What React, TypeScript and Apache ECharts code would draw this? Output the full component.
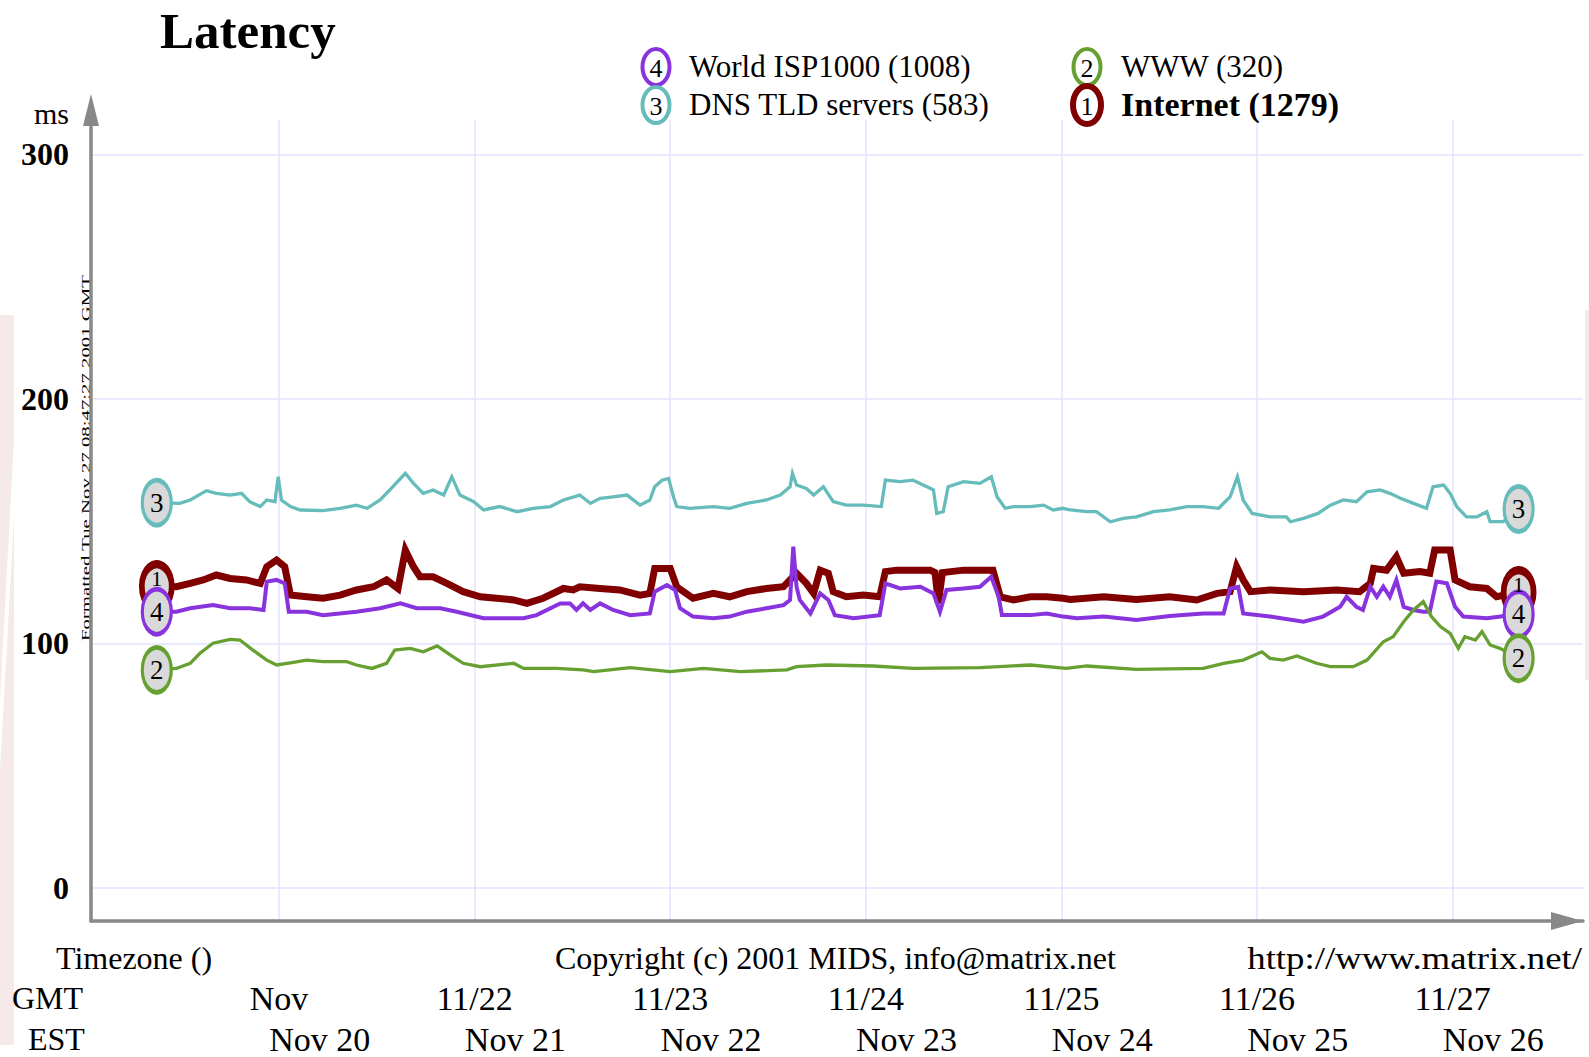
import React, { useEffect, useRef } from "react";
import * as echarts from "echarts";

// hours since Nov 21 00:00 GMT
const gmtTicks = [0, 24, 48, 72, 96, 120, 144];
const gmtLabels = ["Nov", "11/22", "11/23", "11/24", "11/25", "11/26", "11/27"];
const estTicks = [5, 29, 53, 77, 101, 125, 149];
const estLabels = ["Nov 20", "Nov 21", "Nov 22", "Nov 23", "Nov 24", "Nov 25", "Nov 26"];
const yTicks = [0, 100, 200, 300];

const dnsPoints: number[][] = [
  [-15.0, 157.6], [-12.2, 157.3], [-10.9, 158.7], [-8.9, 162.5], [-7.7, 161.4], [-6.0, 160.7], [-4.6, 161.4],
  [-3.6, 158], [-2.3, 156], [-1.5, 158.7], [-0.5, 158], [-0.1, 168.2], [0.3, 158.7], [1.4, 156], [2.6, 154.6],
  [5.4, 154.3], [7.5, 155.3], [9.5, 156.6], [10.8, 155.3], [12.4, 158.7], [13.6, 162.8], [15.5, 169.6],
  [16.5, 165.5], [17.7, 161.4], [18.9, 162.8], [20.2, 160.7], [21.2, 168.2], [22.2, 160.7], [23.9, 158],
  [25.1, 154.6], [27.1, 156], [29.2, 153.9], [31.2, 155.3], [33.3, 156], [34.9, 158.7], [36.9, 160.7],
  [38.2, 157.3], [39.4, 159.4], [41.0, 160], [42.7, 160.7], [44.3, 156.6], [45.5, 158.7], [46.1, 164.1],
  [47.0, 166.8], [47.8, 167.5], [48.4, 160], [48.8, 156], [50.4, 155.3], [53.3, 156], [55.3, 155.3],
  [57.4, 157.3], [59.8, 158.7], [61.5, 160.7], [62.7, 164.1], [63.0, 169.6], [63.5, 164.8], [64.7, 163.4],
  [65.6, 160.7], [66.8, 164.1], [68.0, 158], [69.6, 156.6], [71.7, 156.6], [73.9, 156], [74.4, 166.8],
  [76.2, 166.2], [77.8, 166.8], [79.5, 164.1], [80.3, 162.8], [80.7, 153.2], [81.5, 153.9], [82.1, 164.1],
  [84.0, 166.2], [86.0, 165.5], [87.4, 168.2], [88.1, 160], [89.1, 155.3], [90.1, 156], [92.2, 156],
  [93.8, 156.6], [95.0, 154.6], [96.2, 155.3], [97.1, 154.6], [99.1, 153.9], [100.3, 153.9], [102.0, 149.8],
  [103.6, 151.2], [105.2, 151.8], [107.3, 153.9], [109.3, 154.6], [111.4, 156], [113.4, 156], [115.3, 155.3],
  [116.7, 160], [117.6, 168.2], [118.3, 158.7], [119.4, 153.2], [121.6, 151.8], [123.6, 151.8], [124.1, 149.8],
  [125.7, 151.2], [127.5, 153.2], [129.0, 156.6], [130.6, 158.7], [132.2, 158], [133.5, 162], [135.1, 162.8],
  [136.3, 161.4], [137.6, 159.4], [139.2, 157.3], [140.8, 155.3], [141.6, 164.1], [142.9, 164.8], [143.7, 161.4],
  [144.5, 156], [145.7, 151.8], [147.0, 151.8], [148.2, 153.9], [148.6, 149.8], [150.2, 149.8], [152.1, 155],
];

const internetPoints: number[][] = [
  [-15.0, 123.4], [-12.6, 123.2], [-10.9, 124.6], [-9.3, 126], [-7.7, 128], [-6.0, 126.6], [-4.0, 126],
  [-2.3, 124.6], [-1.5, 131.4], [-0.3, 134.1], [0.7, 131.4], [1.4, 119.8], [3.4, 119.1], [5.4, 118.5],
  [7.5, 119.8], [9.5, 121.9], [11.6, 123.2], [13.2, 126], [14.6, 122.5], [15.5, 138.2], [16.5, 131.4],
  [17.3, 127.3], [18.9, 127.3], [20.6, 124.6], [22.6, 121.2], [24.7, 119.1], [26.7, 118.5], [28.8, 117.8],
  [30.4, 116.4], [32.4, 118.5], [34.9, 122.5], [36.1, 121.9], [36.9, 123.2], [39.4, 122.5], [41.8, 121.9],
  [44.3, 119.8], [45.5, 120.5], [46.1, 130.7], [48.0, 130.7], [48.8, 123.2], [50.8, 118.5], [53.3, 120.5],
  [55.3, 119.1], [57.4, 121.2], [59.8, 122.5], [61.9, 123.2], [62.7, 126], [63.5, 128.7], [64.7, 124.6],
  [65.6, 120.5], [66.4, 130], [67.4, 128.7], [68.0, 121.2], [69.6, 119.1], [71.7, 119.8], [73.7, 119.1],
  [74.4, 129.4], [75.8, 130], [77.8, 130], [79.9, 130], [80.5, 129], [80.9, 116.4], [81.4, 129], [84.0, 130],
  [87.6, 130], [88.5, 119.1], [90.1, 117.8], [92.2, 119.1], [94.2, 119.1], [96.2, 118.5], [97.1, 118],
  [101.2, 119.1], [105.2, 118], [109.3, 119.1], [112.6, 117.8], [115.1, 120.5], [116.7, 121.2], [117.5, 131.4],
  [118.3, 126], [119.2, 121.2], [121.6, 121.9], [125.7, 121.2], [129.8, 121.9], [132.6, 121.2], [133.9, 124.6],
  [134.3, 130.7], [135.9, 130], [137.1, 135.5], [138.0, 128.7], [140.0, 129.4], [141.2, 128.7], [141.8, 138.2],
  [143.7, 138.2], [144.3, 126], [146.1, 123.2], [148.2, 122.5], [149.4, 119.1], [152.1, 121],
];

const ispPoints: number[][] = [
  [-15.0, 113], [-12.6, 113], [-10.9, 114.4], [-8.1, 115.7], [-6.0, 114.4], [-3.6, 114.4], [-1.9, 113.7],
  [-1.5, 125.3], [-0.3, 126], [0.7, 124.6], [1.2, 113], [3.4, 113], [5.4, 111.6], [9.5, 113], [12.4, 114.4],
  [14.9, 116.4], [16.9, 114.4], [19.8, 114.4], [21.8, 113], [25.1, 110.3], [30.0, 110.3], [31.6, 111.6],
  [34.5, 116.4], [35.7, 116.4], [36.5, 113.7], [37.3, 116.4], [38.2, 113.7], [39.4, 116.4], [41.0, 113.7],
  [43.1, 111.6], [45.5, 112.3], [46.1, 121.2], [47.6, 123.9], [48.6, 121.9], [49.2, 114.4], [50.8, 111],
  [53.3, 110.3], [55.3, 111], [57.4, 113], [59.8, 114.4], [61.9, 115.7], [62.7, 117.8], [63.1, 139.6],
  [63.5, 123.2], [63.9, 117.8], [65.2, 112.3], [66.4, 120.5], [67.4, 117.8], [68.2, 111.6], [70.5, 110.3],
  [73.7, 111.6], [74.4, 124.6], [76.2, 122.5], [78.7, 123.2], [80.3, 120.5], [81.1, 113], [81.9, 121.9],
  [84.0, 122.5], [86.0, 123.2], [87.4, 127.3], [88.3, 119.1], [88.7, 111.6], [92.2, 111.6], [94.2, 112.3],
  [96.2, 111], [97.9, 110.3], [101.2, 111], [105.2, 109.6], [109.3, 111.2], [113.4, 112.3], [115.9, 112.3],
  [116.7, 122.5], [117.7, 123.2], [118.3, 112.3], [121.6, 111], [125.7, 108.9], [128.1, 111], [130.2, 115],
  [131.0, 119.1], [132.2, 115], [133.0, 113.7], [133.9, 123.2], [134.7, 119.1], [135.5, 123.2], [136.3, 119.1],
  [137.1, 126], [138.0, 115], [139.2, 113.7], [140.4, 113], [141.2, 113], [142.0, 125.3], [143.3, 124.6],
  [144.3, 115], [145.3, 111], [148.2, 110.3], [152.1, 112],
];

const wwwPoints: number[][] = [
  [-15.0, 89.2], [-12.6, 89.8], [-10.9, 91.9], [-9.7, 96], [-8.1, 100.1], [-6.0, 101.7], [-4.8, 101.4],
  [-3.2, 97.3], [-1.5, 93.2], [-0.3, 91.2], [1.4, 92.1], [3.4, 93.2], [5.4, 92.6], [8.3, 92.6], [9.5, 91.2],
  [11.4, 89.8], [13.2, 91.9], [14.2, 97.3], [16.1, 98], [17.7, 96.6], [19.4, 99], [21.0, 95.3], [22.6, 91.9],
  [24.7, 90.5], [28.8, 91.9], [30.0, 89.8], [34.1, 89.8], [37.3, 89.2], [38.6, 88.5], [43.1, 90.1], [48.0, 88.5],
  [52.1, 89.8], [56.6, 88.5], [62.3, 89.2], [63.5, 90.5], [67.2, 91.2], [72.9, 90.8], [77.8, 89.8], [86.0, 90.1],
  [92.2, 91.2], [96.6, 89.8], [99.1, 90.8], [105.2, 89.4], [113.4, 89.8], [115.9, 91.9], [118.3, 93.2],
  [120.6, 96.6], [121.6, 93.9], [123.2, 93.2], [124.9, 94.9], [127.3, 91.9], [129.0, 90.5], [131.8, 90.5],
  [133.5, 93.2], [135.5, 100.7], [136.7, 102.8], [138.0, 108.9], [139.2, 113.7], [140.4, 117.1], [141.4, 111],
  [142.5, 106.9], [143.7, 104.1], [144.7, 98], [145.5, 102.8], [146.8, 101.4], [147.6, 104.8], [148.6, 99.4],
  [149.8, 98], [152.1, 94],
];

const seriesDefs = [
  { name: "DNS TLD servers (583)", tag: "3", color: "#66bbbb", width: 3.3, data: dnsPoints },
  { name: "Internet (1279)", tag: "1", color: "#800000", width: 7, data: internetPoints },
  { name: "World ISP1000 (1008)", tag: "4", color: "#8833dd", width: 4, data: ispPoints },
  { name: "WWW (320)", tag: "2", color: "#66a030", width: 3.3, data: wwwPoints },
];

const legendItems = [
  { tag: "4", label: "World ISP1000 (1008)", color: "#8833dd", col: 0, row: 0, bold: false },
  { tag: "3", label: "DNS TLD servers (583)", color: "#66bbbb", col: 0, row: 1, bold: false },
  { tag: "2", label: "WWW (320)", color: "#66a030", col: 1, row: 0, bold: false },
  { tag: "1", label: "Internet (1279)", color: "#800000", col: 1, row: 1, bold: true },
];

const SERIF = "'Liberation Serif', 'DejaVu Serif', serif";

export default function App() {
  const ref = useRef<HTMLDivElement>(null);
  useEffect(() => {
    if (!ref.current) return;
    const chart = echarts.init(ref.current, null, { renderer: "svg" });

    const graphic: any[] = [
      { type: "rect", shape: { x: 0, y: 315, width: 14, height: 730 }, style: { fill: "#f5e9e9" }, z: 0 },
      { type: "polygon", shape: { points: [[14, 440], [14, 520], [0, 770], [0, 700]] }, style: { fill: "#ffffff" }, z: 0 },
      { type: "rect", shape: { x: 1585, y: 310, width: 4, height: 370 }, style: { fill: "#f5e9e9" }, z: 0 },
      { type: "text", x: 160, y: 31, style: { text: "Latency", fontSize: 51, fontWeight: "bold", fontFamily: SERIF, fill: "#000", align: "left", verticalAlign: "middle" } },
      { type: "text", x: 69, y: 113, style: { text: "ms", fontSize: 30, fontFamily: SERIF, fill: "#000", align: "right", verticalAlign: "middle" } },
      { type: "text", x: 86, y: 458, rotation: Math.PI / 2, scaleX: 1.6, style: { text: "Formatted Tue Nov 27 08:47:27 2001 GMT", fontSize: 13, fontFamily: SERIF, fill: "#000", align: "center", verticalAlign: "middle" } },
      { type: "text", x: 56, y: 958, style: { text: "Timezone ()", fontSize: 32, fontFamily: SERIF, fill: "#000", align: "left", verticalAlign: "middle" } },
      { type: "text", x: 555, y: 958, style: { text: "Copyright (c) 2001 MIDS, info@matrix.net", fontSize: 32, fontFamily: SERIF, fill: "#000", align: "left", verticalAlign: "middle" } },
      { type: "text", x: 1582, y: 958, scaleX: 1.15, style: { text: "http://www.matrix.net/", fontSize: 32, fontFamily: SERIF, fill: "#000", align: "right", verticalAlign: "middle" } },
      { type: "text", x: 12, y: 998, style: { text: "GMT", fontSize: 32, fontFamily: SERIF, fill: "#000", align: "left", verticalAlign: "middle" } },
      { type: "text", x: 28, y: 1039, style: { text: "EST", fontSize: 32, fontFamily: SERIF, fill: "#000", align: "left", verticalAlign: "middle" } },
    ];
    legendItems.forEach((it) => {
      const cx = it.col === 0 ? 656 : 1087;
      const cy = it.row === 0 ? 67 : 105;
      graphic.push({
        type: "ellipse",
        shape: { cx, cy, rx: it.bold ? 14 : 13.5, ry: it.bold ? 19 : 18 },
        style: { fill: "#ffffff", stroke: it.color, lineWidth: it.bold ? 6 : 4 },
        z: 10 + it.row,
      });
      graphic.push({
        type: "text", x: cx, y: cy + 1, z: 12,
        style: { text: it.tag, fontSize: 26, fontFamily: SERIF, fill: "#000", align: "center", verticalAlign: "middle" },
      });
      graphic.push({
        type: "text", x: it.col === 0 ? 689 : 1121, y: cy - 1, z: 12,
        style: { text: it.label, fontSize: it.bold ? 34 : 31, fontWeight: it.bold ? "bold" : "normal", fontFamily: SERIF, fill: "#000", align: "left", verticalAlign: "middle" },
      });
    });

    const axisLineStyle = { color: "#888888", width: 3.5 };

    chart.setOption({
      animation: false,
      backgroundColor: "#ffffff",
      grid: { left: 91, top: 120, right: 6, bottom: 136, containLabel: false, outerBoundsMode: "none" },
      xAxis: [
        {
          type: "value",
          position: "bottom",
          min: -23.07,
          max: 160.0,
          axisLine: { show: true, onZero: false, lineStyle: axisLineStyle, symbol: ["none", "triangle"], symbolSize: [18, 32], symbolOffset: [0, -16] },
          axisTick: { show: false, customValues: gmtTicks },
          splitLine: { show: true, lineStyle: { color: "#e3e3ff", width: 1.5 } },
          axisLabel: {
            customValues: gmtTicks,
            margin: 60,
            fontSize: 34,
            fontFamily: SERIF,
            color: "#000",
            formatter: (v: number) => gmtLabels[gmtTicks.indexOf(Math.round(v))] ?? "",
          },
        },
        {
          type: "value",
          position: "bottom",
          min: -23.07,
          max: 160.0,
          axisLine: { show: false },
          axisTick: { show: false, customValues: estTicks },
          splitLine: { show: false },
          axisLabel: {
            customValues: estTicks,
            margin: 101,
            fontSize: 34,
            fontFamily: SERIF,
            color: "#000",
            formatter: (v: number) => estLabels[estTicks.indexOf(Math.round(v))] ?? "",
          },
        },
      ],
      yAxis: {
        type: "value",
        min: -13.5,
        max: 314.1,
        axisLine: { show: true, onZero: false, lineStyle: axisLineStyle, symbol: ["none", "triangle"], symbolSize: [16, 32], symbolOffset: [0, 10] },
        axisTick: { show: false, customValues: yTicks },
        splitLine: { show: true, lineStyle: { color: "#e3e3ff", width: 1.5 } },
        axisLabel: {
          customValues: yTicks,
          margin: 22,
          fontSize: 32,
          fontWeight: "bold",
          fontFamily: SERIF,
          color: "#000",
        },
      },
      graphic,
      series: seriesDefs.map((s) => ({
        type: "line",
        name: s.name,
        data: s.data,
        xAxisIndex: 0,
        showSymbol: false,
        symbol: "none",
        silent: true,
        lineStyle: { color: s.color, width: s.width, join: "miter" },
        markPoint: {
          symbol: "circle",
          symbolSize: s.tag === "1" ? [30, 44] : [29, 45],
          silent: true,
          itemStyle: { color: "#d9d9d9", borderColor: s.color, borderWidth: s.tag === "1" ? 7 : 4 },
          label: {
            show: true, position: "inside", formatter: s.tag, color: "#000",
            fontSize: s.tag === "1" ? 22 : 27, fontFamily: SERIF,
            offset: s.tag === "1" ? [0, -8] : [0, 0],
          },
          data: [{ coord: s.data[0] }, { coord: s.data[s.data.length - 1] }],
        },
      })),
    });
    return () => chart.dispose();
  }, []);
  return <div ref={ref} style={{ position: "absolute", left: 0, top: 0, width: 1589, height: 1057 }} />;
}
